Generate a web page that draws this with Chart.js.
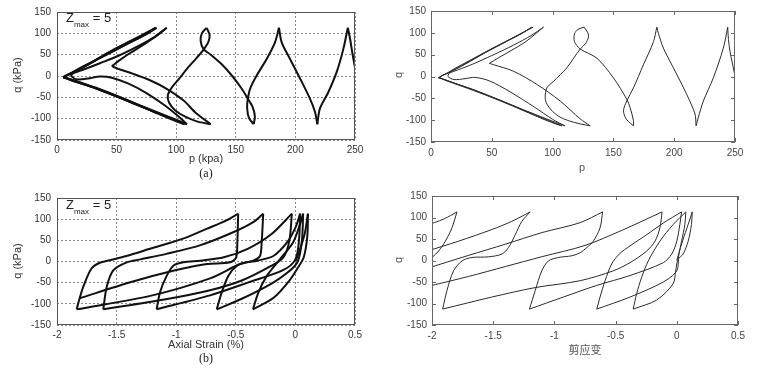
<!DOCTYPE html>
<html><head><meta charset="utf-8">
<script src="https://cdn.jsdelivr.net/npm/chart.js@4.4.1/dist/chart.umd.min.js"></script>
<style>
body{margin:0;background:#fff;}
#wrap{position:relative;width:760px;height:373px;background:#fff;overflow:hidden;}
canvas{position:absolute;}
.t{position:absolute;font-family:"Liberation Sans",Arial,sans-serif;color:#333;white-space:nowrap;}
.rot{transform:translate(-50%,-50%) rotate(-90deg);}
.ctr{transform:translate(-50%,-50%);}
.zm{font-size:13px;color:#222;}
.zm sub{font-size:8px;vertical-align:-5px;}
.cap{font-family:"Liberation Serif","Times New Roman",serif;font-size:12px;color:#222;}
</style></head>
<body><div id="wrap">
<canvas id="ca" width="370" height="165" style="left:0;top:0"></canvas>
<canvas id="cb" width="370" height="164" style="left:0;top:186px"></canvas>
<canvas id="cc" width="370" height="167" style="left:380px;top:0"></canvas>
<canvas id="cd" width="372" height="165" style="left:380px;top:185px"></canvas>
<div class="t rot" style="left:17px;top:75px;font-size:11px">q (kPa)</div>
<div class="t ctr" style="left:206px;top:158px;font-size:11px">p (kpa)</div>
<div class="t ctr cap" style="left:206px;top:173px">(a)</div>
<div class="t zm" style="left:66px;top:10px">Z<sub>max</sub> = 5</div>
<div class="t rot" style="left:17px;top:261px;font-size:11px">q (kPa)</div>
<div class="t ctr" style="left:206px;top:344px;font-size:11px">Axial Strain (%)</div>
<div class="t ctr cap" style="left:206px;top:358px">(b)</div>
<div class="t zm" style="left:66px;top:197px">Z<sub>max</sub> = 5</div>
<div class="t rot" style="left:398px;top:75px;font-size:11px;color:#555">q</div>
<div class="t ctr" style="left:582px;top:167px;font-size:11px;color:#555">p</div>
<div class="t rot" style="left:398px;top:260px;font-size:11px;color:#555">q</div>
<div class="t ctr" style="left:585px;top:349px;font-size:11px;color:#555;font-family:'Noto Sans CJK SC',sans-serif">剪应变</div>
</div>
<script>
// ---------- tick labels ----------
const pTicks = [0, 50, 100, 150, 200, 250];
const qTicks = [-150, -100, -50, 0, 50, 100, 150];
const strainTicks = [-2, -1.5, -1, -0.5, 0, 0.5];

// ---------- (a) experiment, stress path p-q ----------
const aSeg0 = [[250,20],[248,50],[246,85],[244,113]];
const aSeg1 = [[244,113],[240.2,63],[234.6,9],[227.6,-38],[220.6,-76],[218.4,-113]];
const aSeg2 = [[218.4,-113],[216.4,-84],[212.2,-53],[203.9,-6],[195.5,40],[188.5,79],[186.2,113]];
const aSeg3 = [[186.2,113],[182.9,79],[175.9,40],[167.5,1],[162,-30],[160,-55],[159.5,-75],[161,-98],[165,-113]];
const aSeg4 = [[165,-113],[166,-95],[164,-72],[160.5,-55],[155,-30],[147,0],[138,28],[129,50],[123,63],[120.5,82],[121.5,100],[125.5,113]];
const aSeg5 = [[125.5,113],[128,97],[127,80],[123,62],[117,42],[110,20],[102,-8],[96,-28],[93,-45],[94,-62],[99,-80],[108,-96],[118,-107],[129,-113]];
const aSeg6a = [[129,-113],[117,-88],[106,-57],[92,-30],[78,-10],[64,5],[51,17],[46,23]];
const aSeg6b = [[46,23],[52,36],[62,55],[74,76],[84,95],[92,113]];
const aSeg7a = [[92,113],[82,92],[68,70],[52,48],[36,30],[24,17],[16,9],[13,6]];
const aSeg7b = [[13,6],[12,0],[17,-8],[26,-6],[36,-1],[46,-4],[60,-18],[75,-40],[90,-68],[102,-95],[109,-113]];
const aSeg8a = [[109,-113],[95,-97],[75,-75],[55,-52],[35,-30],[18,-14],[8,-5],[5.5,-3]];
const aSeg8b = [[5.5,-3],[9,2],[14,8],[28,30],[45,58],[62,82],[75,100],[82.5,113]];
const aSeg9a = [[82.5,113],[74,97],[60,77],[44,54],[28,31],[17,15],[12,7]];
const aSeg9b = [[12,7],[6,-1],[6.5,-4],[14,-12],[30,-26],[50,-47],[70,-70],[88,-92],[100,-106],[107,-113]];
const aSeg10a = [[107,-113],[97,-101],[78,-80],[58,-57],[38,-35],[20,-16],[9,-6],[5,-3.5]];
const aSeg10b = [[5,-3.5],[8,1],[13,8],[27,28],[44,56],[61,81],[74,100],[83.5,113]];
const aSeg11a = [[83.5,113],[75,98],[61,78],[45,55],[29,32],[18,16],[13,8]];
const aSeg11b = [[13,8],[7,0],[7,-4],[15,-13],[32,-28],[52,-50],[72,-73],[84,-87]];

// ---------- (b) experiment, axial strain - q ----------
const bSeg0 = [[0,0],[0.04,30],[0.08,68],[0.105,113]];
const bSeg1 = [[0.105,113],[0.1,60],[0.07,10],[0.02,-15],[-0.05,-45],[-0.18,-85],[-0.356,-113]];
const bSeg2 = [[-0.356,-113],[-0.31,-73],[-0.24,-34],[-0.13,5],[-0.02,45],[0.035,85],[0.065,113]];
const bSeg3 = [[0.065,113],[0.055,50],[0.02,0],[-0.06,-25],[-0.2,-52],[-0.45,-88],[-0.66,-113]];
const bSeg4 = [[-0.66,-113],[-0.618,-73],[-0.563,-34],[-0.49,-10],[-0.41,-2],[-0.32,2],[-0.185,13],[-0.07,45],[0.0,80],[0.04,113]];
const bSeg5 = [[0.04,113],[0.03,50],[0.0,5],[-0.1,-20],[-0.4,-50],[-0.716,-80],[-1.164,-113]];
const bSeg6 = [[-1.164,-113],[-1.136,-73],[-1.08,-34],[-1.024,-10],[-0.94,-2],[-0.8,2],[-0.6,10],[-0.4,30],[-0.2,65],[-0.03,113]];
const bSeg7 = [[-0.03,113],[-0.05,50],[-0.1,10],[-0.2,-10],[-0.45,-45],[-0.716,-68],[-1.1,-90],[-1.612,-113]];
const bSeg8 = [[-1.612,-113],[-1.583,-60],[-1.528,-21],[-1.415,-2],[-1.3,5],[-1.082,18],[-0.802,38],[-0.522,69],[-0.354,93],[-0.27,113]];
const bSeg9 = [[-0.27,113],[-0.283,45],[-0.297,13],[-0.353,2],[-0.465,-6],[-0.716,-40],[-1.2,-80],[-1.835,-113]];
const bSeg10 = [[-1.835,-113],[-1.81,-87],[-1.78,-60],[-1.712,-17],[-1.642,-3],[-1.558,3],[-1.418,13],[-1.22,30],[-0.942,54],[-0.746,77],[-0.578,97],[-0.48,113]];
const bSeg11 = [[-0.48,113],[-0.487,45],[-0.498,9],[-0.549,-2],[-0.744,-6],[-1.0,-20],[-1.4,-50],[-1.81,-87]];

// ---------- (c) model, stress path p-q ----------
const cSeg0 = [[250,0],[249.2,12],[247.5,35],[245.9,57],[244.6,85],[244,113]];
const cSeg1 = [[244,113],[240.4,65],[232.2,-3],[224,-56],[219.9,-93],[218,-113]];
const cSeg2 = [[218,-113],[217.1,-86],[210.3,-41],[199.3,20],[191.1,65],[187,99],[185.7,113]];
const cSeg3 = [[185.7,113],[183,80],[174.7,27],[166.5,-26],[161,-56],[158.3,-78],[160,-95],[162.4,-103],[166.5,-113]];
const cSeg4 = [[166.5,-113],[166.5,-101],[163.7,-71],[161,-52],[150,-3],[136.4,42],[122.7,63],[118,80],[118,98],[121,108],[125.9,113]];
const cSeg5 = [[125.9,113],[129,100],[129.5,90],[127,75],[122.7,63],[111.7,20],[100.8,-11],[95.3,-26],[93.9,-48],[95.3,-63],[100,-80],[106.2,-93],[114,-102],[122.7,-108.5],[130.9,-113]];
const cSeg6a = [[130.9,-113],[122.7,-97],[106.2,-56],[87,-18],[67.9,12],[51.5,27],[48,30]];
const cSeg6b = [[48,30],[55,42],[65,58],[78,80],[92.5,113]];
const cSeg7a = [[92.5,113],[83,95],[68,72],[50,48],[34,28],[22,15],[15,8]];
const cSeg7b = [[15,8],[14,0],[19,-7],[28,-5],[36,-2],[48,-10],[65,-35],[85,-70],[100,-98],[110,-113]];
const cSeg8a = [[110,-113],[95,-97],[75,-75],[55,-52],[35,-30],[18,-14],[9,-5],[6.3,-3]];
const cSeg8b = [[6.3,-3],[9,2],[14.5,8.3],[28,28],[45,55],[62,80],[75,99],[83,113]];
const cSeg9a = [[83,113],[74,98],[60,78],[44,55],[28,31],[18,16],[14,9]];
const cSeg9b = [[14,9],[8,0],[8,-4],[15,-12],[30,-27],[50,-48],[70,-71],[90,-95],[102,-108],[107.5,-113]];
const cSeg10a = [[107.5,-113],[96,-100],[77,-78],[57,-55],[37,-33],[19,-15],[9,-5],[6,-3]];
const cSeg10b = [[6,-3],[9,2],[14,8],[28,29],[45,56],[62,81],[75,100],[84,113]];

// ---------- (d) model, shear strain - q ----------
const dSeg0 = [[0,0],[0.03,30],[0.07,65],[0.1,90],[0.126,113]];
const dSeg1 = [[0.126,113],[0.12,84],[0.093,45],[0.052,15],[0.011,3],[-0.01,-25],[-0.03,-54],[-0.165,-92],[-0.356,-113]];
const dSeg2 = [[-0.356,-113],[-0.328,-77],[-0.287,-39],[-0.233,-1],[-0.138,45],[-0.029,84],[0.074,113]];
const dSeg3 = [[0.074,113],[0.066,84],[0.039,45],[0.015,10],[0,-24],[-0.111,-50],[-0.382,-85],[-0.654,-113]];
const dSeg4 = [[-0.654,-113],[-0.627,-85],[-0.586,-47],[-0.532,-8],[-0.47,15],[-0.382,34],[-0.246,60],[-0.111,87],[0.039,113]];
const dSeg5 = [[0.039,113],[0.025,84],[0,45],[-0.042,15],[-0.11,-5],[-0.383,-35],[-0.655,-58],[-0.927,-85],[-1.204,-113]];
const dSeg6 = [[-1.204,-113],[-1.157,-70],[-1.103,-24],[-1.049,-1],[-0.967,7],[-0.858,11],[-0.79,18],[-0.736,30],[-0.682,45],[-0.627,76],[-0.606,113]];
const dSeg7 = [[-0.12,113],[-0.138,76],[-0.178,45],[-0.246,22],[-0.382,-5],[-0.519,-24],[-0.79,-47],[-1.157,-63],[-1.511,-85],[-1.913,-113]];
const dSeg8 = [[-1.913,-113],[-1.878,-70],[-1.824,-24],[-1.755,-1],[-1.674,7],[-1.538,8.5],[-1.429,15],[-1.375,30],[-1.32,60],[-1.266,91],[-1.198,113]];
const dSeg9 = [[-2.06,20],[-1.783,45],[-1.511,72],[-1.348,91],[-1.198,113]];
const dSeg10 = [[-2.06,-20],[-1.7,12],[-1.4,38],[-1.1,65],[-0.79,88],[-0.606,113]];
const dSeg11 = [[-2.06,80],[-1.9,97],[-1.796,113]];
const dSeg12 = [[-1.796,113],[-1.837,76],[-1.891,45],[-1.946,22],[-2.0,7],[-2.05,-5]];
const dSeg13 = [[-2.06,-62],[-1.7,-37],[-1.4,-14],[-1.1,9],[-0.75,35],[-0.45,70],[-0.12,113]];

const aSegs=[aSeg0,aSeg1,aSeg2,aSeg3,aSeg4,aSeg5,aSeg6a,aSeg6b,aSeg7a,aSeg7b,aSeg8a,aSeg8b,aSeg9a,aSeg9b,aSeg10a,aSeg10b,aSeg11a,aSeg11b];
const bSegs=[bSeg0,bSeg1,bSeg2,bSeg3,bSeg4,bSeg5,bSeg6,bSeg7,bSeg8,bSeg9,bSeg10,bSeg11];
const cSegs=[cSeg0,cSeg1,cSeg2,cSeg3,cSeg4,cSeg5,cSeg6a,cSeg6b,cSeg7a,cSeg7b,cSeg8a,cSeg8b,cSeg9a,cSeg9b,cSeg10a,cSeg10b];
const dSegs=[dSeg0,dSeg1,dSeg2,dSeg3,dSeg4,dSeg5,dSeg6,dSeg7,dSeg8,dSeg9,dSeg10,dSeg11,dSeg12,dSeg13];

const framePlugin={id:'frame',afterDraw(chart,args,o){
  const {ctx,chartArea:a,scales}=chart;ctx.save();
  ctx.strokeStyle=o.color||'#444';ctx.lineWidth=1;
  ctx.strokeRect(Math.round(a.left)+0.5,Math.round(a.top)+0.5,Math.round(a.right-a.left)-1,Math.round(a.bottom-a.top)-1);
  if(o.ticks){ctx.beginPath();
    scales.x.ticks.forEach(t=>{const x=Math.round(scales.x.getPixelForValue(t.value))+0.5;ctx.moveTo(x,a.bottom);ctx.lineTo(x,a.bottom-4);ctx.moveTo(x,a.top);ctx.lineTo(x,a.top+4);});
    scales.y.ticks.forEach(t=>{const y=Math.round(scales.y.getPixelForValue(t.value))+0.5;ctx.moveTo(a.left,y);ctx.lineTo(a.left+4,y);ctx.moveTo(a.right,y);ctx.lineTo(a.right-4,y);});
    ctx.stroke();}
  ctx.restore();}};

function ds(segs,color,w){return segs.map(s=>({data:s.map(([x,y])=>({x,y})),showLine:true,borderColor:color,borderWidth:w,pointRadius:0,tension:0.3,fill:false}));}
function fmt(v){return String(Math.round(v*100)/100);}

function make(id,segs,o){
  const font={family:'"Liberation Sans", Arial, sans-serif',size:10};
  new Chart(document.getElementById(id),{type:'scatter',
    data:{datasets:ds(segs,o.color,o.lw)},
    options:{responsive:false,animation:false,devicePixelRatio:1,
      layout:{padding:{top:o.pt,right:o.pr,left:0,bottom:0}},
      plugins:{legend:{display:false},tooltip:{enabled:false},frame:{color:o.frame,ticks:o.inticks}},
      scales:{
        x:{type:'linear',min:o.xt[0],max:o.xt[o.xt.length-1],
          afterBuildTicks:s=>{s.ticks=o.xt.map(v=>({value:v}));},
          afterFit:s=>{s.height=o.xh;},
          ticks:{font,color:o.tc,padding:o.xpad,maxRotation:0,callback:v=>fmt(v)},
          grid:{display:o.grid,drawTicks:false,color:'#8a8a8a',lineWidth:1},
          border:{display:false,dash:[2,2]}},
        y:{type:'linear',min:-150,max:150,
          afterBuildTicks:s=>{s.ticks=qTicks.map(v=>({value:v}));},
          afterFit:s=>{s.width=o.yw;},
          ticks:{font,color:o.tc,padding:o.ypad,callback:v=>fmt(v)},
          grid:{display:o.grid,drawTicks:false,color:'#8a8a8a',lineWidth:1},
          border:{display:false,dash:[2,2]}}}},
    plugins:[framePlugin]});
}
const expOpt={color:'#111',lw:2,frame:'#555',inticks:false,grid:true,tc:'#333',xpad:4,ypad:6,pr:15};
make('ca',aSegs,Object.assign({},expOpt,{xt:pTicks,pt:11,xh:25,yw:57}));
make('cb',bSegs,Object.assign({},expOpt,{xt:strainTicks,pt:11,xh:25,yw:57}));
const modOpt={color:'#2a2a2a',lw:1,frame:'#666',inticks:true,grid:false,tc:'#444',xpad:5,ypad:5};
make('cc',cSegs,Object.assign({},modOpt,{xt:pTicks,pt:9,xh:25,yw:51,pr:15}));
make('cd',dSegs,Object.assign({},modOpt,{xt:strainTicks,pt:9,xh:25,yw:52,pr:14}));
</script>
</body></html>
